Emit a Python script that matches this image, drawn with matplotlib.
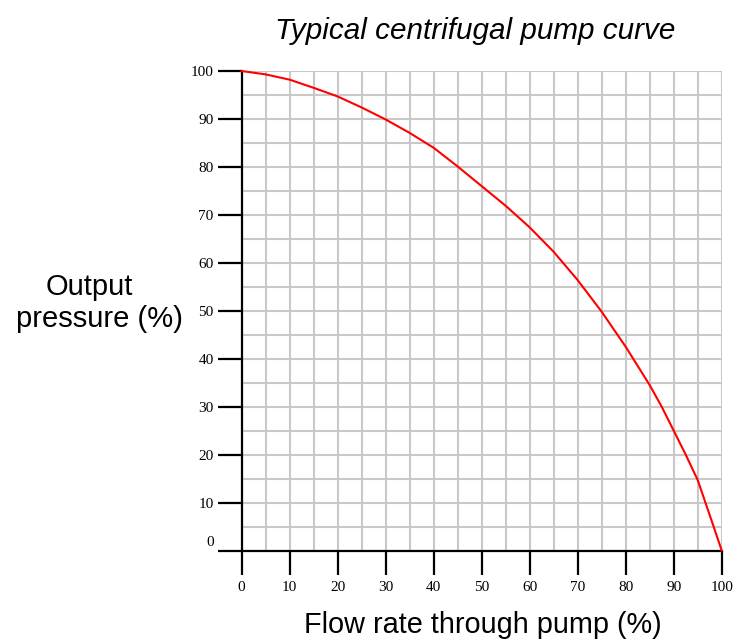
import matplotlib
matplotlib.use("Agg")
import matplotlib.pyplot as plt
import matplotlib.transforms as mtransforms

flow = [0, 5, 10, 15, 20, 25, 30, 35, 40, 45, 50, 55, 60, 65, 70, 75, 80, 82.5, 85, 87.5, 90, 92.5, 95, 97.5, 100]
pressure = [100, 99.3, 98.2, 96.5, 94.7, 92.4, 89.9, 87.1, 84, 80.1, 76, 71.9, 67.4, 62.3, 56.4, 49.8, 42.5, 38.5, 34.5, 30, 25, 20, 14.7, 7.4, 0]
tick_vals = [0, 10, 20, 30, 40, 50, 60, 70, 80, 90, 100]
tick_labels = [str(v) for v in tick_vals]
minor_vals = [5, 15, 25, 35, 45, 55, 65, 75, 85, 95]

W, H = 733, 641
fig = plt.figure(figsize=(W / 100, H / 100), dpi=100)
ax = fig.add_axes([241.5 / W, 1 - 550.5 / H, (721.7 - 241.5) / W, (550.5 - 71) / H])

ax.set_xlim(0, 100)
ax.set_ylim(0, 100)

ax.set_xticks(tick_vals)
ax.set_yticks(tick_vals)
ax.set_xticks(minor_vals, minor=True)
ax.set_yticks(minor_vals, minor=True)
ax.set_xticklabels(tick_labels, family="Liberation Serif", fontsize=11)
ax.set_yticklabels(tick_labels, family="Liberation Serif", fontsize=11)

ax.grid(True, which="both", color="#c8c8c8", linewidth=1.5, zorder=0)
ax.set_axisbelow(True)

for s in ["top", "right"]:
    ax.spines[s].set_visible(False)
for s in ["left", "bottom"]:
    ax.spines[s].set_linewidth(1.6)
    ax.spines[s].set_color("black")

ax.tick_params(which="major", length=17, width=1.6, direction="out", color="black")
ax.tick_params(axis="x", which="major", pad=5)
ax.tick_params(axis="y", which="major", pad=3)
ax.tick_params(which="minor", length=0)

# shift "0" y-label upward like in reference
lbl0 = ax.get_yticklabels()[0]
lbl0.set_transform(lbl0.get_transform() + mtransforms.ScaledTranslation(0, 10 / 100, fig.dpi_scale_trans))

ax.plot(flow, pressure, color="red", linewidth=1.5, zorder=3, clip_on=False)

fig.text(475 / W, 1 - 39 / H, "Typical centrifugal pump curve", ha="center", va="baseline",
         family="Liberation Sans", style="italic", fontsize=21.3)
fig.text(483 / W, 1 - 633 / H, "Flow rate through pump (%)", ha="center", va="baseline",
         family="Liberation Sans", fontsize=20.8)
fig.text(89 / W, 1 - 295 / H, "Output", ha="center", va="baseline",
         family="Liberation Sans", fontsize=21)
fig.text(99 / W, 1 - 327 / H, "pressure (%)", ha="center", va="baseline",
         family="Liberation Sans", fontsize=21)

fig.savefig("out.png", dpi=100)
